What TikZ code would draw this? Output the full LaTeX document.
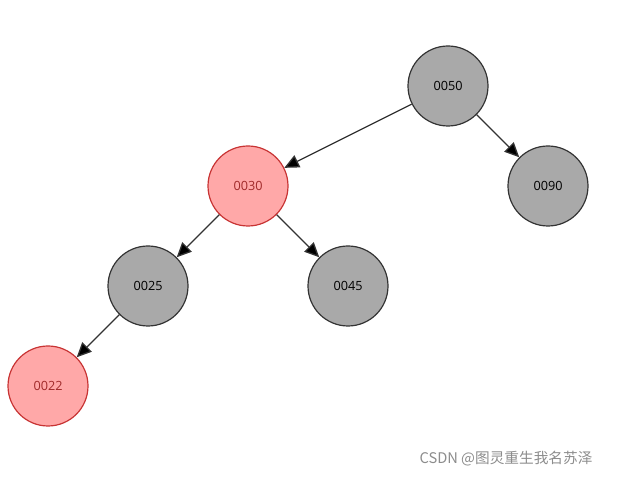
\documentclass[tikz,border=0pt]{standalone}
\usepackage{fontspec}
\setmainfont{Open Sans}
\newfontfamily\cjk{Noto Sans CJK SC}
\usetikzlibrary{arrows.meta}
\definecolor{blackfill}{HTML}{A9A9A9}
\definecolor{redfill}{HTML}{FFA8A8}
\definecolor{redline}{HTML}{C83434}
\tikzset{
  blacknode/.style={shape=circle,draw=black!80,fill=blackfill,minimum size=60pt,inner sep=0pt,line width=0.9pt,font=\fontsize{9.5}{11}\selectfont},
  rednode/.style={shape=circle,draw=redline,fill=redfill,text=redline!80!black,minimum size=60pt,inner sep=0pt,line width=0.9pt,font=\fontsize{9.5}{11}\selectfont},
  link/.style={-{Triangle[length=11pt,width=10pt]},draw=black!80,line width=1pt}
}
\begin{document}
\begin{tikzpicture}[x=0.75pt,y=-0.75pt]
\useasboundingbox (0,0) rectangle (637,477);
\node[blacknode] (n50) at (448,86) {0050};
\node[rednode] (n30) at (248,186) {0030};
\node[blacknode] (n90) at (548,186) {0090};
\node[blacknode] (n25) at (148,286) {0025};
\node[blacknode] (n45) at (348,286) {0045};
\node[rednode] (n22) at (48,386) {0022};
\path[link] (n50) edge (n30);
\path[link] (n50) edge (n90);
\path[link] (n30) edge (n25);
\path[link] (n30) edge (n45);
\path[link] (n25) edge (n22);
\node[text=black!45,font=\cjk\fontsize{11}{13}\selectfont] (mark) at (506,459) {CSDN @图灵重生我名苏泽};
\end{tikzpicture}
\end{document}
